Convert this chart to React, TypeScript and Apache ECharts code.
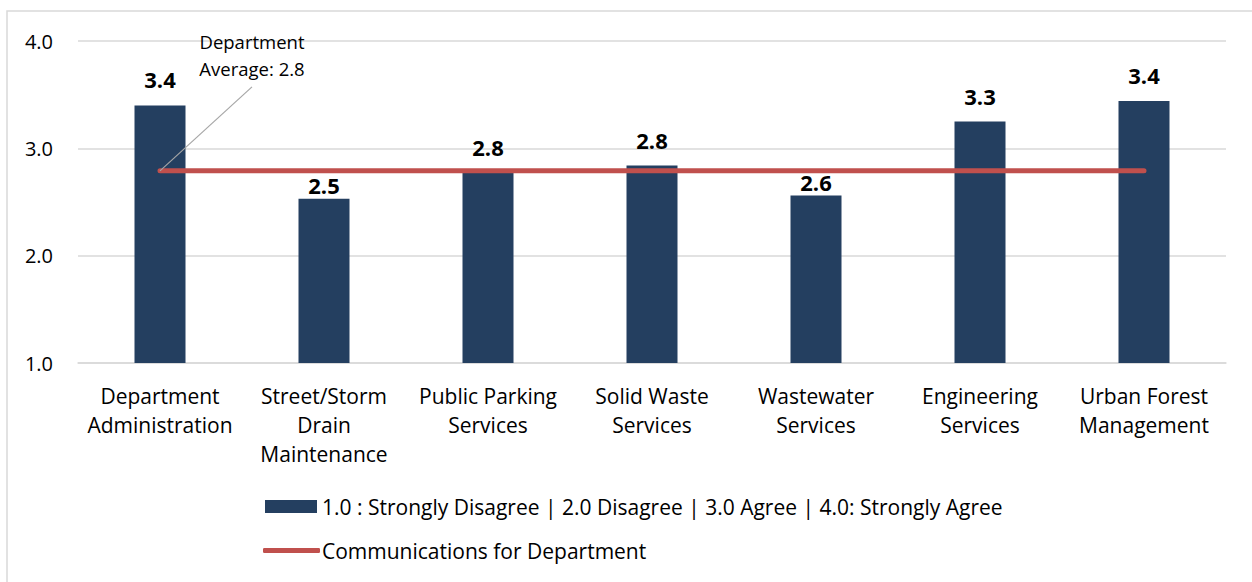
import React, { useEffect, useRef } from "react";
import * as echarts from "echarts";

const categories = [
  "Department\nAdministration",
  "Street/Storm\nDrain\nMaintenance",
  "Public Parking\nServices",
  "Solid Waste\nServices",
  "Wastewater\nServices",
  "Engineering\nServices",
  "Urban Forest\nManagement",
];
const barValues = [3.4, 2.53, 2.77, 2.84, 2.56, 3.25, 3.44];
const averageValues = [2.79, 2.79, 2.79, 2.79, 2.79, 2.79, 2.79];
const barSeriesName = "1.0 : Strongly Disagree | 2.0 Disagree | 3.0 Agree | 4.0: Strongly Agree";
const lineSeriesName = "Communications for Department";
const annotationText = "Department\nAverage: 2.8";
const yTicks = { min: 1, max: 4, interval: 1 };

const FONT = "'Open Sans', 'Noto Sans', sans-serif";

export default function App() {
  const ref = useRef<HTMLDivElement>(null);
  useEffect(() => {
    if (!ref.current) return;
    const chart = echarts.init(ref.current, undefined, { renderer: "svg" });
    const avg = averageValues[0];
    chart.setOption({
      animation: false,
      textStyle: { fontFamily: FONT },
      grid: { left: 78, right: 26, top: 41, bottom: 219 },
      legend: [
        {
          data: [{ name: barSeriesName, icon: "rect" }],
          left: 265,
          top: 496,
          padding: 0,
          itemWidth: 52,
          itemHeight: 13,
          itemGap: 6,
          textStyle: { fontSize: 21, color: "#000", fontFamily: FONT },
          selectedMode: false,
        },
        {
          data: [{ name: lineSeriesName, icon: "roundRect" }],
          left: 263,
          top: 540,
          padding: 0,
          itemWidth: 57,
          itemHeight: 5,
          textStyle: { fontSize: 21, color: "#000", fontFamily: FONT, padding: [0, 0, 0, -3] },
          selectedMode: false,
        },
      ],
      xAxis: {
        type: "category",
        data: categories,
        axisLine: { show: true, lineStyle: { color: "#d9d9d9", width: 1.5 } },
        axisTick: { show: false },
        axisLabel: {
          fontSize: 21,
          color: "#000",
          lineHeight: 29,
          margin: 18,
          interval: 0,
          fontFamily: FONT,
        },
      },
      yAxis: {
        type: "value",
        min: yTicks.min,
        max: yTicks.max,
        interval: yTicks.interval,
        axisLine: { show: false },
        axisTick: { show: false },
        splitLine: { lineStyle: { color: "#d9d9d9", width: 1.5 } },
        axisLabel: {
          fontSize: 20,
          color: "#000",
          margin: 25,
          fontFamily: FONT,
          formatter: (v: number) => v.toFixed(1),
        },
      },
      series: [
        {
          name: barSeriesName,
          type: "bar",
          data: barValues.map((v) => ({
            value: v,
            label: { distance: v < avg - 0.1 ? 3 : 15 },
          })),
          barWidth: 51,
          itemStyle: { color: "#243F60" },
          label: {
            show: true,
            position: "top",
            distance: 15,
            fontSize: 22,
            fontWeight: "bold",
            color: "#000",
            fontFamily: FONT,
            formatter: (p: any) => Number(p.value).toFixed(1),
          },
        },
        {
          name: lineSeriesName,
          type: "line",
          data: averageValues,
          symbol: "none",
          lineStyle: { color: "#C0504D", width: 5, cap: "round" },
          itemStyle: { color: "#C0504D" },
        },
      ],
    });
    const anchor = chart.convertToPixel({ seriesIndex: 1 }, [0, avg]) as number[];
    chart.setOption({
      graphic: [
        {
          type: "rect",
          shape: { x: 7, y: 11, width: 1260, height: 600 },
          style: { fill: "none", stroke: "#d9d9d9", lineWidth: 1.5 },
          silent: true,
        },
        {
          type: "line",
          z: 100,
          shape: { x1: anchor[0], y1: anchor[1], x2: anchor[0] + 92, y2: anchor[1] - 84 },
          style: { stroke: "#a6a6a6", lineWidth: 1.2 },
          silent: true,
        },
        {
          type: "text",
          z: 100,
          x: anchor[0] + 92,
          y: anchor[1] - 143,
          style: {
            text: annotationText,
            fontSize: 18.5,
            fontFamily: FONT,
            fill: "#000",
            align: "center",
            verticalAlign: "top",
            lineHeight: 27,
          },
          silent: true,
        },
      ],
    });
    return () => chart.dispose();
  }, []);
  return (
    <div
      ref={ref}
      style={{ position: "absolute", left: 0, top: 0, width: 1252, height: 582, background: "#fff" }}
    />
  );
}
